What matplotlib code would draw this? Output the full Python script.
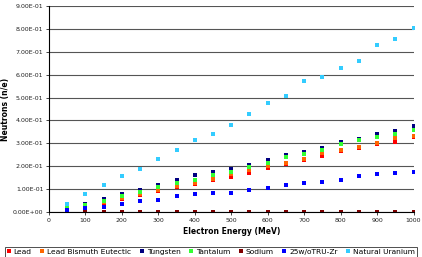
import matplotlib.pyplot as plt

energy = [50, 100, 150, 200, 250, 300, 350, 400, 450, 500,
          550, 600, 650, 700, 750, 800, 850, 900, 950, 1000]

lead = [0.012, 0.025, 0.041, 0.056, 0.075, 0.092, 0.110, 0.124, 0.141, 0.155,
        0.172, 0.192, 0.208, 0.227, 0.245, 0.265, 0.280, 0.298, 0.306, 0.326]
lbe = [0.014, 0.027, 0.044, 0.060, 0.079, 0.095, 0.115, 0.128, 0.145, 0.165,
       0.182, 0.200, 0.212, 0.231, 0.257, 0.269, 0.283, 0.301, 0.323, 0.331]
tungsten = [0.022, 0.036, 0.055, 0.077, 0.095, 0.117, 0.138, 0.160, 0.174, 0.189,
            0.206, 0.226, 0.250, 0.264, 0.279, 0.304, 0.318, 0.339, 0.354, 0.374]
tantalum = [0.018, 0.032, 0.050, 0.068, 0.087, 0.108, 0.128, 0.141, 0.163, 0.176,
            0.196, 0.214, 0.240, 0.255, 0.272, 0.299, 0.314, 0.328, 0.339, 0.357]
sodium = [0.002] * 20
tru_zr = [0.009, 0.018, 0.024, 0.034, 0.046, 0.053, 0.068, 0.078, 0.085, 0.085,
          0.098, 0.103, 0.120, 0.128, 0.132, 0.138, 0.158, 0.164, 0.170, 0.174]
nat_u = [0.033, 0.077, 0.119, 0.158, 0.190, 0.230, 0.270, 0.313, 0.342, 0.382,
         0.428, 0.475, 0.507, 0.570, 0.589, 0.630, 0.659, 0.731, 0.754, 0.805]

series = [
    ("Lead", lead, "#ff0000"),
    ("Lead Bismuth Eutectic", lbe, "#ff6600"),
    ("Tungsten", tungsten, "#000080"),
    ("Tantalum", tantalum, "#33ff33"),
    ("Sodium", sodium, "#800000"),
    ("25w/oTRU-Zr", tru_zr, "#0000ff"),
    ("Natural Uranium", nat_u, "#33ccff"),
]

fig = plt.figure(figsize=(4.22, 2.57), dpi=100)
ax = fig.add_axes([0.116, 0.175, 0.864, 0.802])

for name, vals, col in series:
    ax.plot(energy, vals, linestyle="none", marker="s", markersize=3.1,
            color=col, markeredgewidth=0, label=name)

ax.set_xlim(0, 1000)
ax.set_ylim(0, 0.9)
ax.set_xticks(range(0, 1001, 100))
ax.set_yticks([i / 10 for i in range(10)])
# Excel style scientific labels
ax.yaxis.set_major_formatter(plt.FuncFormatter(
    lambda v, p: "%.2fE-01" % (v * 10) if v else "0.00E+00"))
ax.tick_params(labelsize=4.5, length=2, width=0.6, pad=2, colors="#222222")
ax.grid(axis="y", color="#555555", linewidth=0.8)
ax.set_axisbelow(True)
for s in ["top", "right"]:
    ax.spines[s].set_visible(False)
for s in ["left", "bottom"]:
    ax.spines[s].set_linewidth(0.8)

ax.set_xlabel("Electron Energy (MeV)", fontsize=5.5, fontweight="bold", labelpad=3)
ax.set_ylabel("Neutrons (n/e)", fontsize=5.5, fontweight="bold", labelpad=2)

leg = fig.legend(loc="lower center", bbox_to_anchor=(0.5, -0.014), ncol=7,
                 fontsize=5.4, frameon=True, fancybox=False, edgecolor="black",
                 handlelength=0.5, handletextpad=0.4, columnspacing=1.15,
                 borderpad=0.25, markerscale=0.9)
leg.get_frame().set_linewidth(0.6)

fig.savefig("out.png", dpi=100)
